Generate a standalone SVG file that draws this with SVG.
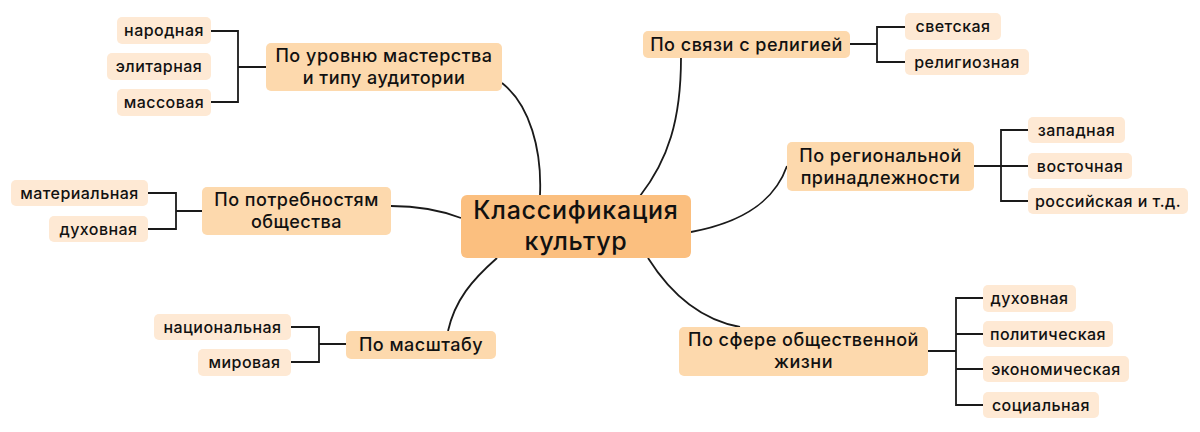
<svg xmlns="http://www.w3.org/2000/svg" width="1200" height="432" viewBox="0 0 1200 432">
<style>
.c{fill:#FBBF7F}
.l1{fill:#FDD9AD}
.l2{fill:#FEE9D4}
text{font-family:Inter,"Noto Sans","Liberation Sans",sans-serif;font-weight:500;fill:#111;text-anchor:middle}
.tc{font-size:25px;letter-spacing:0.75px}
.t1{font-size:18px;letter-spacing:0.5px}
.t2{font-size:16px;letter-spacing:0.45px}
.ln{fill:none;stroke:#1a1a1a;stroke-width:1.8}
</style>
<rect width="1200" height="432" fill="#ffffff"/>
<g id="connectors">
<path class="ln" d="M502,83 C530,105 542,150 540,195"/>
<path class="ln" d="M681,58 C681,120 668,160 640,196"/>
<path class="ln" d="M691,232 C745,222 775,200 787,166"/>
<path class="ln" d="M391,206 C420,206 440,210 461,218"/>
<path class="ln" d="M497,258 C472,280 455,300 448,331"/>
<path class="ln" d="M648,258 C672,296 702,320 740,327"/>
<path class="ln" d="M211,31 H238 V102 H211 M238,67 H266"/>
<path class="ln" d="M850,44 H877 M905,27 H877 V62 H905"/>
<path class="ln" d="M974,166 H1028 M1028,130 H1001 V201 H1028"/>
<path class="ln" d="M148,193 H176 V229 H148 M176,211 H202"/>
<path class="ln" d="M291,327 H319 V362 H291 M319,344 H346"/>
<path class="ln" d="M928,351 H956 M983,298 H956 V405 H983 M956,334 H983 M956,369 H983"/>
</g>
<g id="center"><rect class="c" x="461" y="195" width="230" height="63" rx="6"/><text class="tc" x="576" y="219">Классификация</text><text class="tc" x="576" y="250">культур</text></g>
<g id="n-level"><rect class="l1" x="266" y="43" width="236" height="48" rx="5"/><text class="t1" x="384" y="62">По уровню мастерства</text><text class="t1" x="384" y="84">и типу аудитории</text></g>
<g id="n-religion"><rect class="l1" x="643" y="31" width="207" height="27" rx="5"/><text class="t1" x="746.5" y="51">По связи с религией</text></g>
<g id="n-region"><rect class="l1" x="787" y="142" width="187" height="49" rx="5"/><text class="t1" x="880.5" y="162">По региональной</text><text class="t1" x="880.5" y="184">принадлежности</text></g>
<g id="n-needs"><rect class="l1" x="202" y="187" width="189" height="48" rx="5"/><text class="t1" x="296.5" y="206">По потребностям</text><text class="t1" x="296.5" y="228">общества</text></g>
<g id="n-scale"><rect class="l1" x="346" y="331" width="150" height="28" rx="5"/><text class="t1" x="421" y="351">По масштабу</text></g>
<g id="n-sphere"><rect class="l1" x="679" y="327" width="249" height="49" rx="5"/><text class="t1" x="803.5" y="346">По сфере общественной</text><text class="t1" x="803.5" y="368">жизни</text></g>
<g id="a1"><rect class="l2" x="117" y="17" width="94" height="27" rx="5"/><text class="t2" x="164" y="36">народная</text></g>
<g id="a2"><rect class="l2" x="107" y="53" width="104" height="27" rx="5"/><text class="t2" x="159" y="72">элитарная</text></g>
<g id="a3"><rect class="l2" x="117" y="89" width="94" height="27" rx="5"/><text class="t2" x="164" y="108">массовая</text></g>
<g id="b1"><rect class="l2" x="905" y="13" width="96" height="27" rx="5"/><text class="t2" x="953" y="32">светская</text></g>
<g id="b2"><rect class="l2" x="905" y="49" width="124" height="26" rx="5"/><text class="t2" x="967" y="68">религиозная</text></g>
<g id="c1"><rect class="l2" x="1028" y="117" width="97" height="26" rx="5"/><text class="t2" x="1076.5" y="136">западная</text></g>
<g id="c2"><rect class="l2" x="1028" y="153" width="104" height="26" rx="5"/><text class="t2" x="1080" y="172">восточная</text></g>
<g id="c3"><rect class="l2" x="1028" y="188" width="160" height="26" rx="5"/><text class="t2" x="1108" y="207">российская и т.д.</text></g>
<g id="d1"><rect class="l2" x="11" y="180" width="137" height="26" rx="5"/><text class="t2" x="79.5" y="199">материальная</text></g>
<g id="d2"><rect class="l2" x="49" y="216" width="99" height="26" rx="5"/><text class="t2" x="98.5" y="235">духовная</text></g>
<g id="e1"><rect class="l2" x="154" y="314" width="137" height="26" rx="5"/><text class="t2" x="222.5" y="333">национальная</text></g>
<g id="e2"><rect class="l2" x="198" y="349" width="93" height="27" rx="5"/><text class="t2" x="244.5" y="368">мировая</text></g>
<g id="f1"><rect class="l2" x="983" y="285" width="93" height="27" rx="5"/><text class="t2" x="1029.5" y="304">духовная</text></g>
<g id="f2"><rect class="l2" x="983" y="321" width="130" height="26" rx="5"/><text class="t2" x="1048" y="340">политическая</text></g>
<g id="f3"><rect class="l2" x="983" y="356" width="146" height="26" rx="5"/><text class="t2" x="1056" y="375">экономическая</text></g>
<g id="f4"><rect class="l2" x="983" y="392" width="116" height="26" rx="5"/><text class="t2" x="1041" y="411">социальная</text></g>
</svg>
